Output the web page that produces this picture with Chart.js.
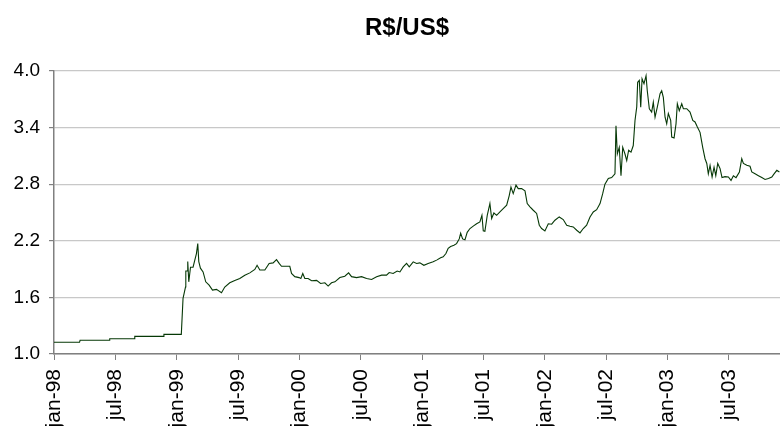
<!DOCTYPE html>
<html>
<head>
<meta charset="utf-8">
<script src="https://cdn.jsdelivr.net/npm/chart.js@4/dist/chart.umd.min.js"></script>
<style>
  html, body { margin: 0; padding: 0; background: #fff; }
  #wrap { width: 780px; height: 426px; }
</style>
</head>
<body>
<div id="wrap"><canvas id="fx-chart"></canvas></div>
<script>
// months since jan-98 (fractional) and R$ per US$
const months = [
  0, 2.5, 2.55, 5.4, 5.45, 7.85, 7.9, 10.7, 10.75, 12.45,
  12.62, 12.86, 12.89, 13.01, 13.08, 13.18, 13.35, 13.60, 13.77, 13.93,
  14.06, 14.16, 14.32, 14.58, 14.84, 15.17, 15.50, 15.89, 16.38, 16.70,
  17.19, 17.68, 18.17, 18.66, 19.15, 19.64, 19.86, 20.13, 20.62, 21.04,
  21.43, 21.76, 22.02, 22.25, 23.06, 23.23, 23.55, 23.97, 24.14, 24.33,
  24.53, 24.85, 25.19, 25.68, 26.07, 26.49, 26.81, 27.14, 27.47, 27.96,
  28.44, 28.81, 29.10, 29.59, 30.08, 30.57, 31.06, 31.55, 32.04, 32.52,
  32.78, 33.17, 33.56, 33.83, 34.15, 34.48, 34.74, 35.13, 35.46, 35.78,
  36.17, 36.59, 37.08, 37.42, 37.81, 38.06, 38.33, 38.55, 38.79, 39.11,
  39.37, 39.63, 39.77, 39.96, 40.19, 40.41, 40.68, 41.00, 41.33, 41.65,
  41.85, 41.98, 42.14, 42.37, 42.63, 42.80, 43.02, 43.29, 43.61, 43.93,
  44.27, 44.52, 44.69, 44.91, 45.18, 45.40, 45.73, 46.06, 46.28, 46.55,
  46.87, 47.20, 47.46, 47.69, 48.01, 48.34, 48.67, 48.99, 49.41, 49.80,
  50.14, 50.46, 50.78, 51.12, 51.44, 51.76, 52.09, 52.42, 52.74, 53.07,
  53.40, 53.66, 53.88, 54.21, 54.54, 54.86, 54.96, 55.09, 55.28, 55.45,
  55.62, 55.84, 56.01, 56.20, 56.43, 56.65, 56.82, 56.99, 57.08, 57.24,
  57.38, 57.51, 57.70, 57.90, 58.02, 58.22, 58.45, 58.61, 58.78, 59.00,
  59.27, 59.43, 59.59, 59.76, 59.92, 60.08, 60.31, 60.41, 60.64, 60.83,
  60.96, 61.15, 61.39, 61.55, 61.88, 62.20, 62.47, 62.69, 62.92, 63.18,
  63.44, 63.67, 63.84, 63.99, 64.16, 64.36, 64.55, 64.72, 64.91, 65.14,
  65.33, 65.62, 65.95, 66.21, 66.44, 66.70, 67.03, 67.26, 67.42, 67.75,
  68.07, 68.24, 68.56, 68.89, 69.22, 69.54, 69.87, 70.20, 70.42, 70.69,
  70.94
];
const rates = [
  1.124, 1.124, 1.145, 1.145, 1.162, 1.162, 1.187, 1.187, 1.208, 1.208,
  1.59, 1.71, 1.88, 1.88, 1.98, 1.765, 1.92, 1.92, 1.995, 2.065,
  2.17, 1.98, 1.91, 1.87, 1.765, 1.73, 1.677, 1.685, 1.65, 1.71,
  1.755, 1.78, 1.80, 1.835, 1.86, 1.896, 1.94, 1.89, 1.89, 1.96,
  1.966, 2.00, 1.96, 1.93, 1.93, 1.854, 1.82, 1.81, 1.80, 1.854,
  1.80, 1.80, 1.776, 1.78, 1.748, 1.755, 1.72, 1.755, 1.765, 1.81,
  1.825, 1.86, 1.82, 1.81, 1.82, 1.80, 1.79, 1.82, 1.836, 1.836,
  1.864, 1.854, 1.88, 1.87, 1.924, 1.96, 1.924, 1.977, 1.96, 1.966,
  1.94, 1.96, 1.977, 1.995, 2.02, 2.03, 2.065, 2.12, 2.14, 2.153,
  2.17, 2.22, 2.28, 2.22, 2.21, 2.29, 2.33, 2.355, 2.38, 2.40,
  2.47, 2.305, 2.30, 2.47, 2.595, 2.436, 2.495, 2.47, 2.506, 2.54,
  2.577, 2.68, 2.77, 2.70, 2.79, 2.753, 2.753, 2.73, 2.595, 2.56,
  2.524, 2.49, 2.365, 2.33, 2.305, 2.38, 2.376, 2.418, 2.453, 2.425,
  2.365, 2.355, 2.347, 2.312, 2.284, 2.33, 2.365, 2.453, 2.506, 2.53,
  2.595, 2.70, 2.80, 2.86, 2.87, 2.91, 3.42, 3.12, 3.19, 2.89,
  3.19, 3.12, 3.05, 3.16, 3.14, 3.21, 3.476, 3.62, 3.88, 3.90,
  3.617, 3.917, 3.865, 3.95, 3.79, 3.60, 3.564, 3.67, 3.51, 3.617,
  3.76, 3.79, 3.72, 3.51, 3.44, 3.55, 3.476, 3.30, 3.29, 3.44,
  3.653, 3.58, 3.653, 3.60, 3.60, 3.564, 3.476, 3.46, 3.406, 3.35,
  3.19, 3.07, 3.02, 2.91, 3.00, 2.876, 2.98, 2.89, 3.02, 2.965,
  2.87, 2.88, 2.876, 2.84, 2.89, 2.87, 2.93, 3.07, 3.02, 3.00,
  2.99, 2.93, 2.91, 2.89, 2.87, 2.85, 2.86, 2.876, 2.91, 2.947,
  2.93
];

const tickLabels = ['jan-98', 'jul-98', 'jan-99', 'jul-99', 'jan-00', 'jul-00',
                    'jan-01', 'jul-01', 'jan-02', 'jul-02', 'jan-03', 'jul-03'];
const tickMonths = [0, 6, 12, 18, 24, 30, 36, 42, 48, 54, 60, 66];
const yTicks = [1.0, 1.6, 2.2, 2.8, 3.4, 4.0];

const FONT = "'Liberation Sans', Arial, sans-serif";
const points = months.map((m, i) => ({ x: m, y: rates[i] }));

// title drawn by hand so it can sit where the original had it
const titlePlugin = {
    id: 'rsTitle',
    afterDraw(chart) {
        const ctx = chart.ctx;
        ctx.save();
        ctx.font = 'bold 24px ' + FONT;
        ctx.fillStyle = '#000';
        ctx.textAlign = 'center';
        ctx.textBaseline = 'alphabetic';
        ctx.fillText('R$/US$', 407, 35);
        ctx.restore();
    }
};

const ctx = document.getElementById('fx-chart').getContext('2d');
new Chart(ctx, {
    type: 'line',
    data: {
        datasets: [{
            label: 'R$/US$',
            data: points,
            borderColor: '#063806',
            borderWidth: 1.1,
            pointRadius: 0,
            tension: 0,
            fill: false
        }]
    },
    options: {
        responsive: true,
        maintainAspectRatio: false,
        animation: false,
        layout: { padding: { top: 71, right: 0, left: 0, bottom: 0 } },
        plugins: {
            legend: { display: false },
            title: { display: false },
            tooltip: { enabled: false }
        },
        scales: {
            x: {
                type: 'linear',
                min: 0,
                max: 71,
                afterBuildTicks: scale => {
                    scale.ticks = tickMonths.map(v => ({ value: v }));
                },
                afterFit: scale => { scale.height = 72; },
                grid: {
                    drawOnChartArea: false,
                    drawTicks: true,
                    tickLength: 6,
                    tickColor: '#808080'
                },
                border: { display: true, color: '#808080', width: 1.5 },
                ticks: {
                    autoSkip: false,
                    minRotation: 90,
                    maxRotation: 90,
                    padding: 9,
                    color: '#000',
                    font: { family: FONT, size: 21 },
                    callback: value => tickLabels[tickMonths.indexOf(value)]
                }
            },
            y: {
                min: 1.0,
                max: 4.0,
                afterBuildTicks: scale => {
                    scale.ticks = yTicks.map(v => ({ value: v }));
                },
                afterFit: scale => { scale.width = 54; },
                grid: {
                    color: '#c8c8c8',
                    lineWidth: 1.2,
                    drawTicks: true,
                    tickLength: 5,
                    tickColor: '#808080'
                },
                border: { display: true, color: '#808080', width: 1.5 },
                ticks: {
                    padding: 9,
                    color: '#000',
                    font: { family: FONT, size: 19 },
                    callback: value => value.toFixed(1)
                }
            }
        }
    },
    plugins: [titlePlugin]
});
</script>
</body>
</html>
